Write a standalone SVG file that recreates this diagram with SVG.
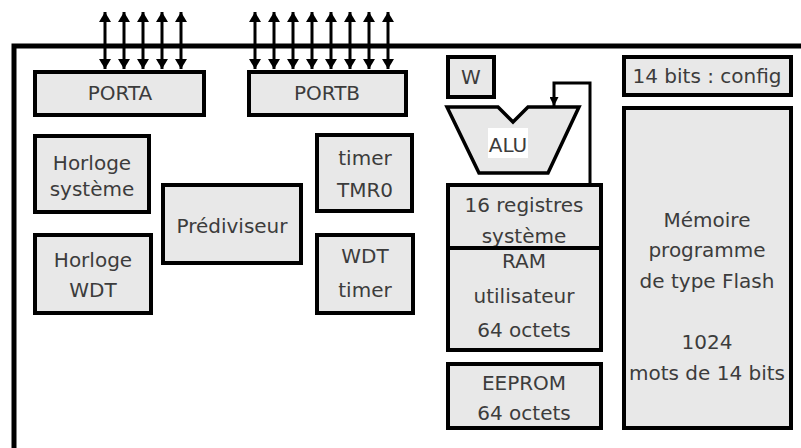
<svg xmlns="http://www.w3.org/2000/svg" width="801" height="448" viewBox="0 0 801 448">
<defs>
<style>
.box{fill:#e8e8e8;stroke:#000;stroke-width:4}
.rim{fill:none;stroke:#8a8a8a;stroke-width:1.5}
.t{font-family:"DejaVu Sans",Verdana,sans-serif;font-size:20px;fill:#3c3c3c;text-anchor:middle}
.w{stroke:#000;stroke-width:3;fill:none}
</style>
<marker id="ah" viewBox="0 0 10 12" refX="10" refY="6" markerWidth="10" markerHeight="12" markerUnits="userSpaceOnUse" orient="auto">
<path d="M0,0 L10,6 L0,12 z" fill="#000"/>
</marker>
<marker id="ah2" viewBox="0 0 10 10" refX="10" refY="5" markerWidth="9" markerHeight="9" markerUnits="userSpaceOnUse" orient="auto">
<path d="M0,0 L10,5 L0,10 z" fill="#000"/>
</marker>
</defs>
<rect width="801" height="448" fill="#fff"/>
<g id="frame">
<path d="M14,448 V46 H801" fill="none" stroke="#000" stroke-width="5"/>
</g>
<g id="connectors">
<g class="w">
<line x1="105" y1="40" x2="105" y2="12" marker-end="url(#ah)"/>
<line x1="105" y1="40" x2="105" y2="69" marker-end="url(#ah)"/>
<line x1="124" y1="40" x2="124" y2="12" marker-end="url(#ah)"/>
<line x1="124" y1="40" x2="124" y2="69" marker-end="url(#ah)"/>
<line x1="143" y1="40" x2="143" y2="12" marker-end="url(#ah)"/>
<line x1="143" y1="40" x2="143" y2="69" marker-end="url(#ah)"/>
<line x1="162" y1="40" x2="162" y2="12" marker-end="url(#ah)"/>
<line x1="162" y1="40" x2="162" y2="69" marker-end="url(#ah)"/>
<line x1="181" y1="40" x2="181" y2="12" marker-end="url(#ah)"/>
<line x1="181" y1="40" x2="181" y2="69" marker-end="url(#ah)"/>
<line x1="255" y1="40" x2="255" y2="12" marker-end="url(#ah)"/>
<line x1="255" y1="40" x2="255" y2="69" marker-end="url(#ah)"/>
<line x1="274" y1="40" x2="274" y2="12" marker-end="url(#ah)"/>
<line x1="274" y1="40" x2="274" y2="69" marker-end="url(#ah)"/>
<line x1="293" y1="40" x2="293" y2="12" marker-end="url(#ah)"/>
<line x1="293" y1="40" x2="293" y2="69" marker-end="url(#ah)"/>
<line x1="312" y1="40" x2="312" y2="12" marker-end="url(#ah)"/>
<line x1="312" y1="40" x2="312" y2="69" marker-end="url(#ah)"/>
<line x1="331" y1="40" x2="331" y2="12" marker-end="url(#ah)"/>
<line x1="331" y1="40" x2="331" y2="69" marker-end="url(#ah)"/>
<line x1="350" y1="40" x2="350" y2="12" marker-end="url(#ah)"/>
<line x1="350" y1="40" x2="350" y2="69" marker-end="url(#ah)"/>
<line x1="369" y1="40" x2="369" y2="12" marker-end="url(#ah)"/>
<line x1="369" y1="40" x2="369" y2="69" marker-end="url(#ah)"/>
<line x1="388" y1="40" x2="388" y2="12" marker-end="url(#ah)"/>
<line x1="388" y1="40" x2="388" y2="69" marker-end="url(#ah)"/>
</g>
<path d="M590,184 V83 H554 V106" fill="none" stroke="#000" stroke-width="3" marker-end="url(#ah2)"/>
</g>
<g id="porta"><rect class="box" x="35" y="72" width="169" height="43"/><text class="t" x="120" y="100">PORTA</text></g>
<g id="portb"><rect class="box" x="249" y="72" width="157" height="43"/><text class="t" x="327" y="100">PORTB</text></g>
<g id="horloge-systeme"><rect class="box" x="35" y="136" width="114" height="76"/><text class="t" x="92" y="170">Horloge</text><text class="t" x="92" y="196">système</text></g>
<g id="horloge-wdt"><rect class="box" x="35" y="235" width="116" height="78"/><text class="t" x="93" y="267">Horloge</text><text class="t" x="93" y="297">WDT</text></g>
<g id="prediviseur"><rect class="box" x="163" y="185" width="138" height="78"/><text class="t" x="232" y="233">Prédiviseur</text></g>
<g id="timer-tmr0"><rect class="box" x="317" y="135" width="95" height="76"/><text class="t" x="365" y="165">timer</text><text class="t" x="365" y="197">TMR0</text></g>
<g id="wdt-timer"><rect class="box" x="317" y="235" width="96" height="78"/><text class="t" x="365" y="263">WDT</text><text class="t" x="365" y="297">timer</text></g>
<g id="w"><rect class="box" x="448" y="57" width="46" height="40"/><text class="t" x="471" y="84">W</text></g>
<g id="alu"><polygon points="447,107 498,107 513,122 528,107 579,107 548,173 479,173" fill="#e8e8e8" stroke="#000" stroke-width="3.5" stroke-linejoin="miter"/><rect x="488" y="128" width="40" height="30" fill="#fff"/><text class="t" x="508" y="152">ALU</text></g>
<g id="registres"><rect class="box" x="448" y="185" width="153" height="63"/><text class="t" x="524" y="212">16 registres</text><text class="t" x="524" y="243">système</text></g>
<g id="ram"><rect class="box" x="448" y="248" width="153" height="102"/><text class="t" x="524" y="268">RAM</text><text class="t" x="524" y="303">utilisateur</text><text class="t" x="524" y="337">64 octets</text></g>
<g id="eeprom"><rect class="box" x="448" y="364" width="153" height="64"/><text class="t" x="524" y="390">EEPROM</text><text class="t" x="524" y="420">64 octets</text></g>
<g id="config"><rect class="box" x="624" y="57" width="167" height="38"/><text class="t" x="707" y="83">14 bits : config</text></g>
<g id="memoire"><rect class="box" x="624" y="108" width="167" height="320"/><text class="t" x="707" y="227">Mémoire</text><text class="t" x="707" y="257">programme</text><text class="t" x="707" y="288">de type Flash</text><text class="t" x="707" y="349">1024</text><text class="t" x="707" y="380">mots de 14 bits</text></g>
</svg>
